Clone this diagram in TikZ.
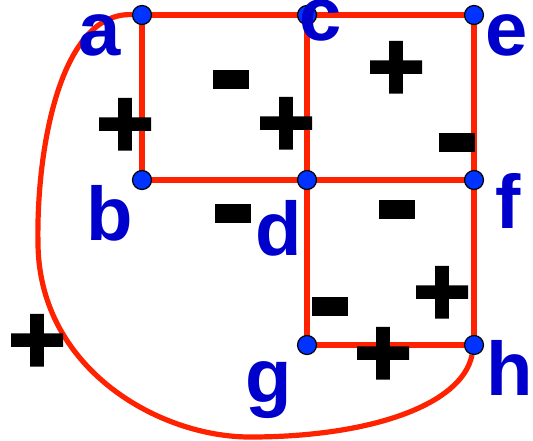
\documentclass[tikz,border=0pt]{standalone}
\usepackage{fontspec}
\setmainfont{Liberation Sans}
\newfontfamily\signfont[FakeBold=3]{Liberation Sans Bold}
\usetikzlibrary{positioning}
\definecolor{edgered}{RGB}{255,34,0}
\definecolor{vertexblue}{RGB}{0,51,255}
\definecolor{labelblue}{RGB}{0,0,204}
\pgfdeclarelayer{edgelayer}
\pgfsetlayers{edgelayer,main}

\begin{document}
\begin{tikzpicture}[x=0.5pt,y=-0.5pt,
    vertex/.style={circle,fill=vertexblue,draw=black,line width=0.6pt,minimum size=9.5pt,inner sep=0pt},
    edge/.style={edgered,line width=2.6pt},
    vname/.style={labelblue,anchor=base,inner sep=0pt,font=\fontsize{38}{40}\selectfont\bfseries},
    plussign/.style={inner sep=0pt,yshift=-2pt,font=\fontsize{49}{50}\signfont},
    minussign/.style={inner sep=0pt,yshift=-6.5pt,font=\fontsize{63}{64}\signfont}]
  \useasboundingbox (0,0) rectangle (533,440);
  % vertices
  \node[vertex] (a) at (142,15) {};
  \node[vertex] (c) at (307,15) {};
  \node[vertex] (e) at (474,15) {};
  \node[vertex] (b) at (142,180) {};
  \node[vertex] (d) at (307,180) {};
  \node[vertex] (f) at (474,180) {};
  \node[vertex] (g) at (307,345) {};
  \node[vertex] (h) at (474,345) {};
  % edges
  \begin{pgfonlayer}{edgelayer}
    \draw[edge] (a.center) -- (c.center) -- (e.center) -- (f.center) -- (h.center)
      -- (g.center) -- (d.center) -- (c.center);
    \draw[edge] (a.center) -- (b.center) -- (d.center) -- (f.center);
    \draw[edge] (a) .. controls (60,12) and (36,150) .. (38,245)
      .. controls (40,370) and (160,437) .. (250,437)
      .. controls (370,437) and (462,405) .. (h);
  \end{pgfonlayer}
  % vertex names
  \node[vname] (la) at (100,55) {a};
  \node[vname] (lb) at (110,240) {b};
  \node[vname] (lc) at (321,40) {c};
  \node[vname] (ld) at (279,255) {d};
  \node[vname] (le) at (507,55) {e};
  \node[vname] (lf) at (508,228) {f};
  \node[vname] (lg) at (269,402) {g};
  \node[vname] (lh) at (510,395) {h};
  % signs
  \node[plussign] (s1) at (125,124) {+};
  \node[minussign] (s2) at (231,79) {-};
  \node[minussign] (s3) at (233,213) {-};
  \node[plussign] (s4) at (396,67) {+};
  \node[plussign] (s5) at (286,123) {+};
  \node[minussign] (s6) at (457,142) {-};
  \node[minussign] (s7) at (397,209) {-};
  \node[minussign] (s8) at (330,306) {-};
  \node[plussign] (s9) at (442,292) {+};
  \node[plussign] (s10) at (383,353) {+};
  \node[plussign] (s11) at (37,340) {+};
\end{tikzpicture}
\end{document}
